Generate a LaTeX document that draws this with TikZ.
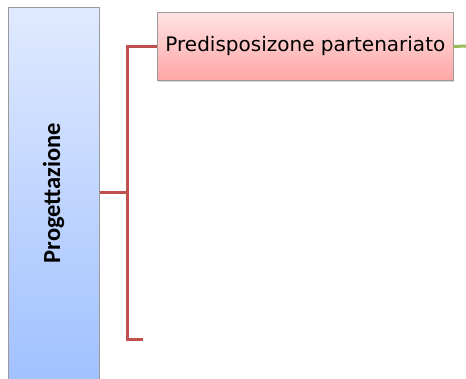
\documentclass[tikz,border=0pt]{standalone}
\usepackage{fontspec}
\setmainfont{DejaVu Sans}
\newfontfamily\calib{Carlito}
\usetikzlibrary{shadows}
\definecolor{redline}{HTML}{C0504D}
\definecolor{greenline}{HTML}{9BBB59}
\definecolor{boxborder}{HTML}{9A9A9A}
\tikzset{
  barbox/.style={draw=boxborder, line width=0.8pt, top color={rgb,255:red,224;green,234;blue,255}, bottom color={rgb,255:red,160;green,192;blue,255}},
  pinkbox/.style={draw=boxborder, line width=0.8pt, top color={rgb,255:red,255;green,226;blue,226}, bottom color={rgb,255:red,255;green,166;blue,166}, drop shadow={shadow xshift=1pt, shadow yshift=-1.5pt, opacity=0.3}},
  conn/.style={draw=redline, line width=3pt},
}
\begin{document}
\begin{tikzpicture}[x=1pt,y=1pt]
\useasboundingbox (0,0) rectangle (466,379);
\fill[white] (0,0) rectangle (466,379);
\node[barbox, minimum width=91pt, minimum height=380pt, inner sep=0pt, anchor=north west] (bar) at (8,372) {};
\node[rotate=90, font=\calib\bfseries\fontsize{24.5}{28}\selectfont] (bartext) at (53.5,186) {Progettazione};
\node[pinkbox, minimum width=296pt, minimum height=68pt, inner sep=0pt, anchor=north west, font=\fontsize{20}{24}\selectfont] (pd) at (157,367) {Predisposizone partenariato};
\coordinate (junc) at (127,186);
\coordinate (bot) at (143,39);
\coordinate (gend) at (470,333);
\draw[conn] (bar.east |- junc) -- (junc);
\draw[conn] (pd.west) -| (127,186) |- (bot);
\draw[draw=greenline, line width=3pt] (pd.east) -- (gend);
\end{tikzpicture}
\end{document}
